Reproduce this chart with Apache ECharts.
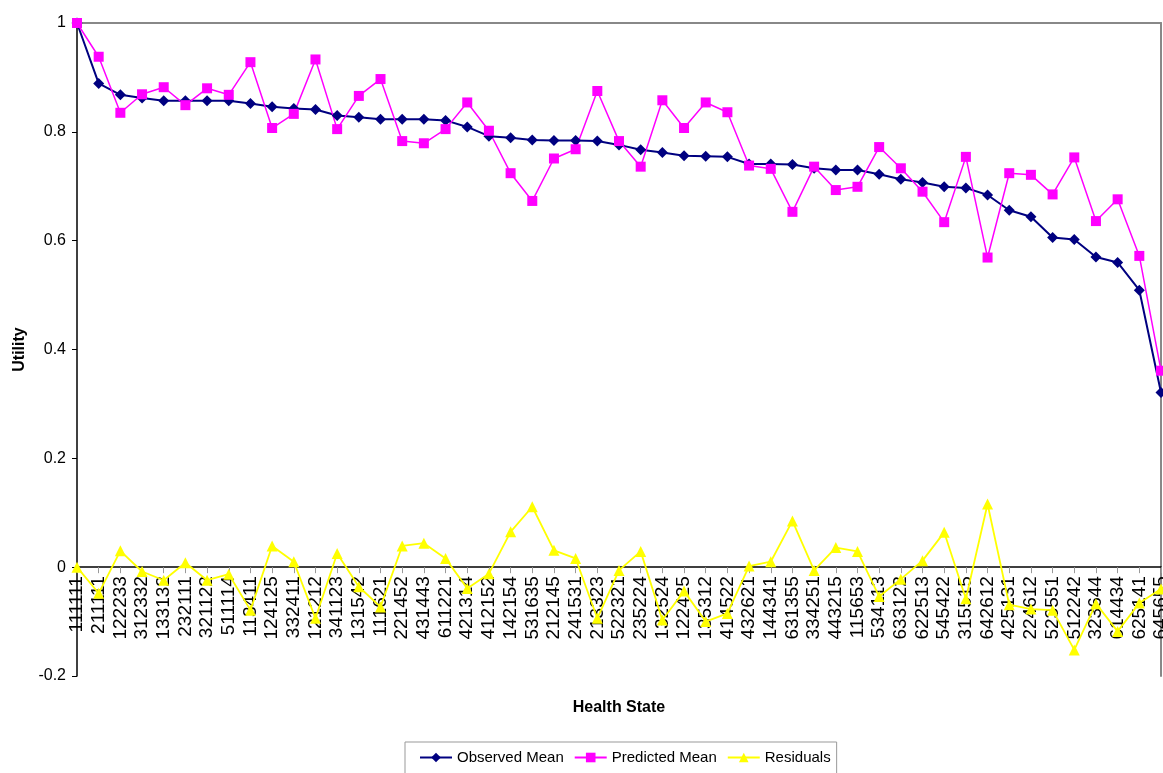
<!DOCTYPE html>
<html>
<head>
<meta charset="utf-8">
<script src="https://cdn.jsdelivr.net/npm/echarts@6/dist/echarts.min.js"></script>
<style>
html,body{margin:0;padding:0;background:#fff;}
#c{width:1163px;height:773px;}
</style>
</head>
<body>
<div id="c"></div>
<script>
const categories = ['111111','211111','122233','312332','133132','232111','321122','511114','113411','124125','332411','121212','341123','131542','111621','221452','431443','611221','421314','412152','142154','531635','212145','241531','213323','522321','235224','132524','122425','135312','414522','432621','144341','631355','334251','443215','115653','534113','633122','622513','545422','315515','642612','425131','224612','523551','512242','323644','614434','625141','645655'];
const observedMean = [1.000,0.889,0.868,0.862,0.857,0.857,0.857,0.857,0.852,0.846,0.843,0.841,0.830,0.827,0.823,0.823,0.823,0.821,0.809,0.792,0.789,0.785,0.784,0.784,0.783,0.776,0.767,0.762,0.756,0.755,0.754,0.741,0.741,0.740,0.733,0.730,0.730,0.722,0.713,0.707,0.699,0.697,0.684,0.656,0.644,0.606,0.602,0.570,0.560,0.509,0.321];
const predictedMean = [1.000,0.938,0.835,0.869,0.882,0.849,0.880,0.868,0.928,0.807,0.833,0.933,0.805,0.866,0.897,0.783,0.779,0.805,0.854,0.802,0.724,0.673,0.751,0.768,0.875,0.783,0.736,0.858,0.807,0.854,0.836,0.738,0.732,0.653,0.736,0.693,0.699,0.772,0.733,0.690,0.634,0.754,0.569,0.724,0.721,0.685,0.753,0.636,0.676,0.572,0.361];
const residuals = [0.000,-0.048,0.030,-0.008,-0.024,0.008,-0.024,-0.013,-0.079,0.039,0.010,-0.094,0.025,-0.036,-0.073,0.039,0.044,0.016,-0.039,-0.012,0.065,0.111,0.031,0.016,-0.094,-0.006,0.029,-0.097,-0.044,-0.100,-0.085,0.002,0.010,0.085,-0.006,0.036,0.029,-0.054,-0.022,0.012,0.064,-0.058,0.116,-0.069,-0.077,-0.079,-0.152,-0.067,-0.118,-0.066,-0.040];
const yTicks = {min: -0.2, max: 1, interval: 0.2};

const FONT = 'Liberation Sans, Arial, sans-serif';
const GRID = {left: 77, right: 2, top: 23, bottom: 97};
const plotH = 773 - GRID.top - GRID.bottom;
// distance from the bottom of the plot (y = min) up to y = 0
const zeroOffset = plotH * (0 - yTicks.min) / (yTicks.max - yTicks.min);

const chart = echarts.init(document.getElementById('c'), null, {renderer: 'canvas'});
chart.setOption({
  animation: false,
  backgroundColor: '#ffffff',
  grid: Object.assign({containLabel: false, outerBoundsMode: 'none'}, GRID),
  xAxis: [{
    type: 'category',
    data: categories,
    boundaryGap: false,
    offset: -zeroOffset,
    axisLine: {onZero: false, lineStyle: {color: '#000', width: 1.5}},
    axisTick: {show: true, length: 6, lineStyle: {color: '#999'}},
    axisLabel: {rotate: 90, interval: 0, margin: 9, color: '#000', fontSize: 19, fontFamily: FONT},
    name: 'Health State',
    nameLocation: 'middle',
    nameGap: 132,
    nameTextStyle: {fontWeight: 'bold', fontSize: 16, color: '#000', fontFamily: FONT},
    splitLine: {show: false}
  }, {
    type: 'category',
    data: categories,
    boundaryGap: false,
    position: 'top',
    axisLine: {onZero: false, lineStyle: {color: '#888', width: 2}},
    axisTick: {show: false},
    axisLabel: {show: false},
    splitLine: {show: false}
  }],
  yAxis: [{
    type: 'value',
    min: yTicks.min, max: yTicks.max, interval: yTicks.interval,
    axisLine: {show: true, onZero: false, lineStyle: {color: '#000', width: 1.5}},
    axisTick: {show: true, length: 5, lineStyle: {color: '#000'}},
    axisLabel: {color: '#000', fontSize: 16, fontFamily: FONT, margin: 11,
      formatter: v => (Math.round(v * 10) / 10).toString()},
    splitLine: {show: false},
    name: 'Utility',
    nameLocation: 'middle',
    nameGap: 47,
    nameTextStyle: {fontWeight: 'bold', fontSize: 16, color: '#000', fontFamily: FONT}
  }, {
    type: 'value',
    position: 'right',
    min: yTicks.min, max: yTicks.max, interval: yTicks.interval,
    axisLine: {show: true, onZero: false, lineStyle: {color: '#888', width: 2}},
    axisTick: {show: false},
    axisLabel: {show: false},
    splitLine: {show: false}
  }],
  legend: {
    bottom: -12,
    left: 405,
    itemWidth: 32,
    itemHeight: 12,
    itemGap: 10,
    padding: [8, 6, 20, 14],
    borderColor: '#999',
    borderWidth: 1,
    textStyle: {fontSize: 15, color: '#000', fontFamily: FONT},
    data: ['Observed Mean', 'Predicted Mean', 'Residuals']
  },
  series: [{
    name: 'Observed Mean',
    type: 'line',
    data: observedMean,
    symbol: 'diamond',
    symbolSize: 11,
    itemStyle: {color: '#000080'},
    lineStyle: {color: '#000080', width: 2}
  }, {
    name: 'Predicted Mean',
    type: 'line',
    data: predictedMean,
    symbol: 'rect',
    symbolSize: 10,
    itemStyle: {color: '#ff00ff'},
    lineStyle: {color: '#ff00ff', width: 1.5}
  }, {
    name: 'Residuals',
    type: 'line',
    data: residuals,
    symbol: 'triangle',
    symbolSize: 11,
    itemStyle: {color: '#ffff00'},
    lineStyle: {color: '#ffff00', width: 1.8}
  }]
});
</script>
</body>
</html>
